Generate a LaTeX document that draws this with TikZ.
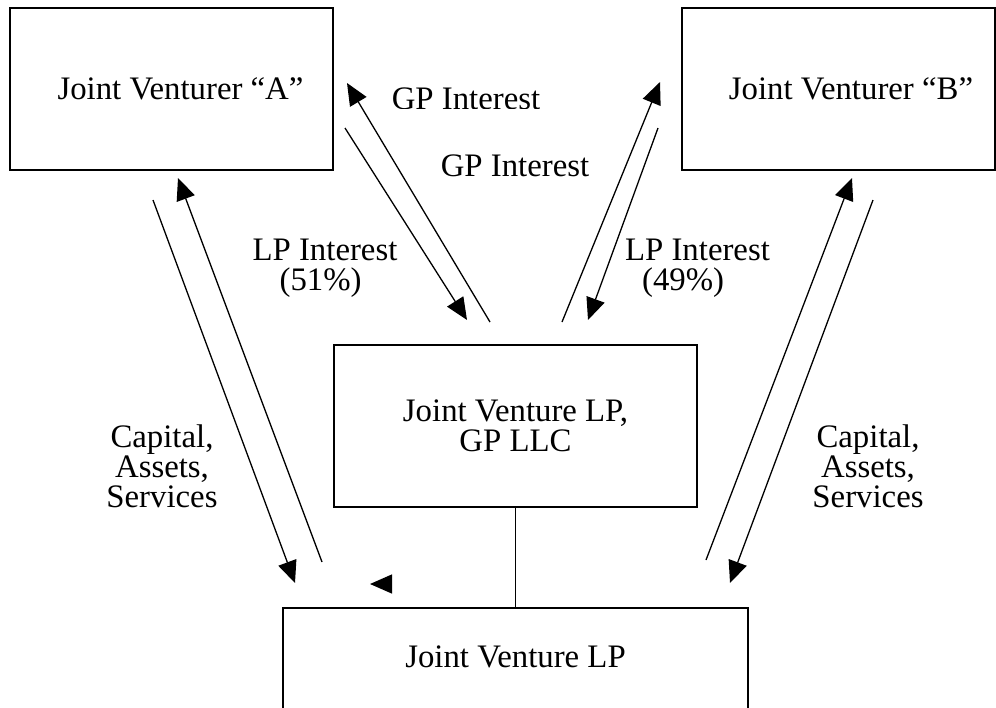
\documentclass[tikz,border=0pt]{standalone}
\usepackage{fontspec}
\setmainfont{Liberation Serif}
\usetikzlibrary{arrows.meta}

\tikzset{
  party/.style={draw, line width=0.6pt, inner sep=0pt, align=center},
  flow/.style={line width=0.65pt, -{Triangle[length=11pt,width=9.5pt]}},
  lbl/.style={inner sep=0pt, align=center}
}

\begin{document}
\begin{tikzpicture}[x=0.5pt, y=-0.5pt, font=\fontsize{16.4}{15}\selectfont]
  \useasboundingbox (0,0) rectangle (996,707);

  % the four entities
  \node[party, minimum width=161.5pt, minimum height=81pt] (jva) at (171.5,89) {\hspace*{9pt}Joint Venturer ``A''};
  \node[party, minimum width=156.5pt, minimum height=81pt] (jvb) at (838.5,89) {\hspace*{12.5pt}Joint Venturer ``B''};
  \node[party, minimum width=181.5pt, minimum height=81pt] (jvgp) at (515.5,426) {Joint Venture LP,\\GP LLC};
  \node[party, minimum width=232.5pt, minimum height=52pt, text depth=3pt] (jvlp) at (515.5,660) {Joint Venture LP};
  \draw[line width=0.6pt] (jvgp.south) -- (jvlp.north);

  % ends of the flow arrows
  \coordinate (capa-out) at (153,200);  \coordinate (capa-in) at (295,583);
  \coordinate (lpa-out) at (322,562);   \coordinate (lpa-in) at (178,178);
  \coordinate (gpa-out) at (345,128);   \coordinate (gpa-in) at (467,320);
  \coordinate (inta-out) at (490,322);  \coordinate (inta-in) at (347,83);
  \coordinate (intb-out) at (562,322);  \coordinate (intb-in) at (660,82);
  \coordinate (gpb-out) at (658,128);   \coordinate (gpb-in) at (588,320);
  \coordinate (lpb-out) at (706,560);   \coordinate (lpb-in) at (852,178);
  \coordinate (capb-out) at (873,200);  \coordinate (capb-in) at (730,583);
  \coordinate (stray-out) at (391,584); \coordinate (stray-in) at (370,584);

  \foreach \s/\t in {capa-out/capa-in, lpa-out/lpa-in, gpa-out/gpa-in, inta-out/inta-in,
                     intb-out/intb-in, gpb-out/gpb-in, lpb-out/lpb-in, capb-out/capb-in,
                     stray-out/stray-in}
    \draw[flow] (\s) -- (\t);

  % labels
  \begin{scope}
    \clip (380,80) rectangle (560,108);
    \node[lbl] (gptop) at (466,99) {GP Interest};
  \end{scope}
  \node[lbl] (gpmid) at (515,166) {GP Interest};
  \node[lbl, align=left] (lpa) at (325,268) {LP Interest\\\hspace*{13.5pt}(51\%)};
  \node[lbl, align=left] (lpb) at (697.5,268) {LP Interest\\\hspace*{8.5pt}(49\%)};
  \node[lbl] (capa) at (162,466) {Capital,\\Assets,\\Services};
  \node[lbl] (capb) at (868,466) {Capital,\\Assets,\\Services};
\end{tikzpicture}
\end{document}
